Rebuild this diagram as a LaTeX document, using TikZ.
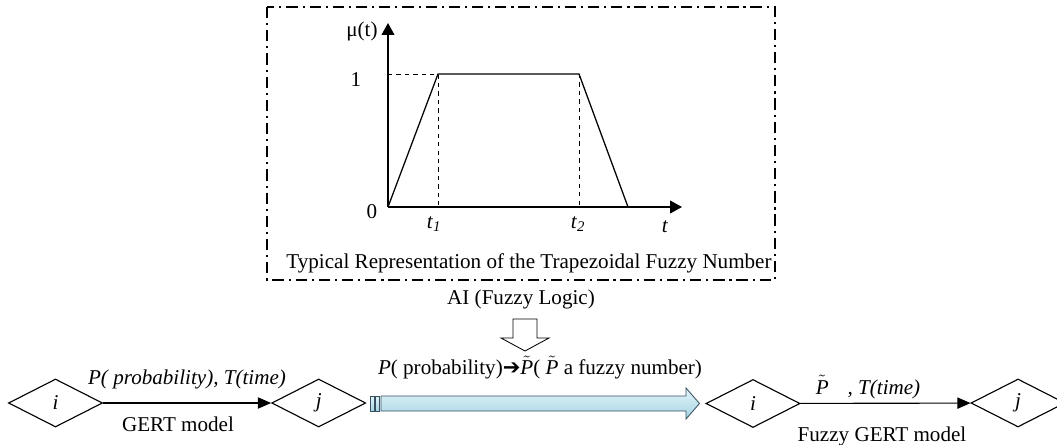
\documentclass[tikz,border=0pt]{standalone}
\usepackage{fontspec}
\setmainfont{Liberation Serif}
\newfontfamily\dejavu{DejaVu Sans}
\usetikzlibrary{shapes.geometric, arrows.meta, positioning, calc}
\definecolor{arrowtop}{RGB}{226, 244, 249}
\definecolor{arrowbot}{RGB}{166, 213, 228}
\definecolor{arrowline}{RGB}{55, 80, 95}
\newcommand{\Pfz}{$\tilde{\mbox{\textit{P}}}$}

\begin{document}
\begin{tikzpicture}[x=0.025cm, y=-0.025cm,
    font=\fontsize{15}{18}\selectfont,
    gnode/.style={diamond, draw, line width=0.8pt, minimum width=2.35cm, minimum height=1.2cm,
                  inner sep=0pt, font=\fontsize{15}{18}\selectfont\itshape},
    garrow/.style={-{Triangle[length=3.3mm, width=2.8mm]}, line width=0.8pt},
    axis/.style={-{Triangle[length=3mm, width=3.2mm]}, line width=1.1pt},
    guide/.style={dashed, line width=0.5pt},
    bluebar/.style={draw=arrowline, line width=0.6pt, top color=arrowtop, bottom color=arrowbot}]
  \useasboundingbox (0,0) rectangle (1057,445);

  % trapezoidal fuzzy number
  \draw[dash pattern=on 8pt off 3.5pt on 1.5pt off 3.5pt, line width=0.8pt] (267,7) rectangle (775,280);
  \coordinate (o) at (388,207);
  \coordinate (ytip) at (388,23);
  \coordinate (xtip) at (682,207);
  \coordinate (a) at (438,74);
  \coordinate (b) at (579,74);
  \coordinate (c) at (628,207);
  \draw[axis] (o) -- (ytip);
  \draw[axis] (o) -- (xtip);
  \draw[line width=0.9pt] (o) -- (a) -- (b) -- (c);
  \draw[guide] (388,74) -- (a) -- (438,207);
  \draw[guide] (b) -- (579,207);
  \node (mu) at (362,31) {μ(t)};
  \node (one) at (356,80) {1};
  \node (zero) at (372,212) {0};
  \node (t1) at (434,224) {\textit{t}\textsubscript{\textit{1}}};
  \node (t2) at (578,224) {\textit{t}\textsubscript{\textit{2}}};
  \node (t) at (665,227) {\textit{t}};
  \node (caption) at (529,263) {Typical Representation of the Trapezoidal Fuzzy Number};

  % AI step
  \node (ai) at (521,299) {AI (Fuzzy Logic)};
  \draw[line width=0.6pt, fill=white] (513,319) -- (537,319) -- (537,338) -- (549,338)
      -- (525,351) -- (501,338) -- (513,338) -- cycle;

  % GERT model
  \node[gnode] (i1) at (55.5,403) {i};
  \node[gnode] (j1) at (318.7,403) {j};
  \draw[garrow] (i1) -- (j1);
  \node (pt1) at (187,379) {\textit{P( probability), T(time)}};
  \node (gert) at (178,424) {GERT model};

  % conversion arrow
  \path[bluebar] (370,396) rectangle (374,411);
  \path[bluebar] (375.5,396) rectangle (379,411);
  \path[bluebar] (381,396) -- (686,396) -- (686,388) -- (699.5,403.5) -- (686,419)
      -- (686,411) -- (381,411) -- cycle;
  \node (conv) at (540,368) {\textit{P}( probability){\dejavu ➔}\Pfz( \Pfz{} a fuzzy number)};

  % fuzzy GERT model
  \node[gnode] (i2) at (753,403.5) {i};
  \node[gnode] (j2) at (1018,403) {j};
  \draw[garrow] (i2) -- (j2);
  \node (pt2) at (868,387) {\Pfz\hspace{0.9em}\textit{, T(time)}};
  \node (fgert) at (882,436) {Fuzzy GERT model};
\end{tikzpicture}
\end{document}
